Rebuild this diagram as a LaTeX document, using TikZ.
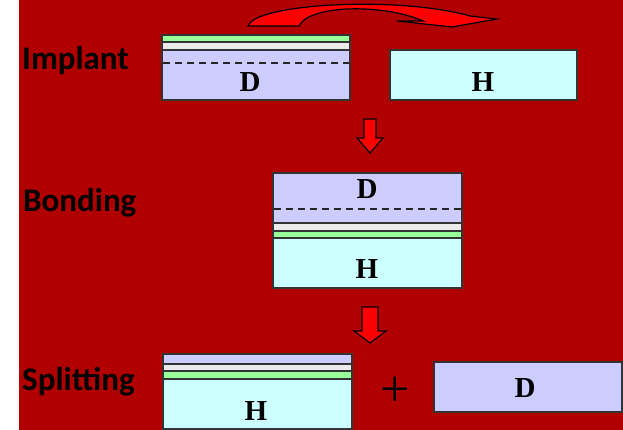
\documentclass[tikz,border=0pt]{standalone}
\usepackage{fontspec}
\setmainfont{Liberation Serif}
\newfontfamily\lblfont{Carlito}
\definecolor{bgred}{RGB}{176,0,0}
\definecolor{arrred}{RGB}{255,0,0}
\definecolor{lavc}{RGB}{204,204,255}
\definecolor{cyanc}{RGB}{204,255,255}
\definecolor{grnc}{RGB}{153,255,153}
\definecolor{whtc}{RGB}{235,235,235}
\begin{document}
\begin{tikzpicture}[x=1pt,y=-1pt,
  layer/.style={draw=black!80,line width=1.3pt},
  lav/.style={layer,fill=lavc},
  cyanl/.style={layer,fill=cyanc},
  grn/.style={layer,fill=grnc},
  wht/.style={layer,fill=whtc},
  cut/.style={draw=black!85,line width=2.2pt,dash pattern=on 7pt off 5pt},
  redarrow/.style={draw=black,line width=1.2pt,fill=arrred,line join=miter},
  stage/.style={font=\lblfont\bfseries\fontsize{33}{33}\selectfont,anchor=base west,inner sep=0pt},
  wafer/.style={font=\bfseries\fontsize{29}{29}\selectfont,inner sep=0pt,anchor=base}]
\useasboundingbox (0,0) rectangle (623,430);
\fill[white] (0,0) rectangle (623,430);
\fill[bgred] (19,0) rectangle (623,430);

% labels
\node[stage] (implant) at (22,70) {Implant};
\node[stage] (bonding) at (23,212) {Bonding};
\node[stage] (splitting) at (22,390) {Splitting};

% curved arrow
\draw[redarrow] (248,26) .. controls (256,3) and (400,-4) .. (470,16) -- (497,19) -- (452,27) -- (397,21) -- (423,21)
   .. controls (385,4) and (310,4) .. (299,26) -- cycle;

% Implant: D wafer
\draw[lav] (162,50) rectangle (350,100);
\draw[wht] (162,42) rectangle (350,50);
\draw[grn] (162,35) rectangle (350,42);
\draw[cut] (163,63) -- (349,63);
\node[wafer] (d1) at (250,92) {D};
% H wafer
\draw[cyanl] (390,50) rectangle (577,100);
\node[wafer] (h1) at (483,92) {H};

% arrow 1
\draw[redarrow] (364,119) -- (376,119) -- (376,138) -- (383,138) -- (370,153) -- (357,138) -- (364,138) -- cycle;

% Bonding
\draw[lav] (273,173) rectangle (462,223);
\draw[wht] (273,223) rectangle (462,231);
\draw[grn] (273,231) rectangle (462,238);
\draw[cyanl] (273,238) rectangle (462,288);
\draw[cut] (274,209) -- (461,209);
\node[wafer] (d2) at (367,199) {D};
\node[wafer] (h2) at (367,278) {H};

% arrow 2
\draw[redarrow] (362,307) -- (378,307) -- (378,331) -- (386,331) -- (370,343) -- (354,331) -- (362,331) -- cycle;

% Splitting
\draw[lav] (163,354) rectangle (352,364);
\draw[wht] (163,364) rectangle (352,371);
\draw[grn] (163,371) rectangle (352,379);
\draw[cyanl] (163,379) rectangle (352,429);
\node[wafer] (h3) at (256,420) {H};
\node[font=\fontsize{52}{52}\selectfont,inner sep=0pt] (plus) at (395,392) {+};
\draw[lav] (434,362) rectangle (622,412);
\node[wafer] (d3) at (525,397) {D};
\end{tikzpicture}
\end{document}
